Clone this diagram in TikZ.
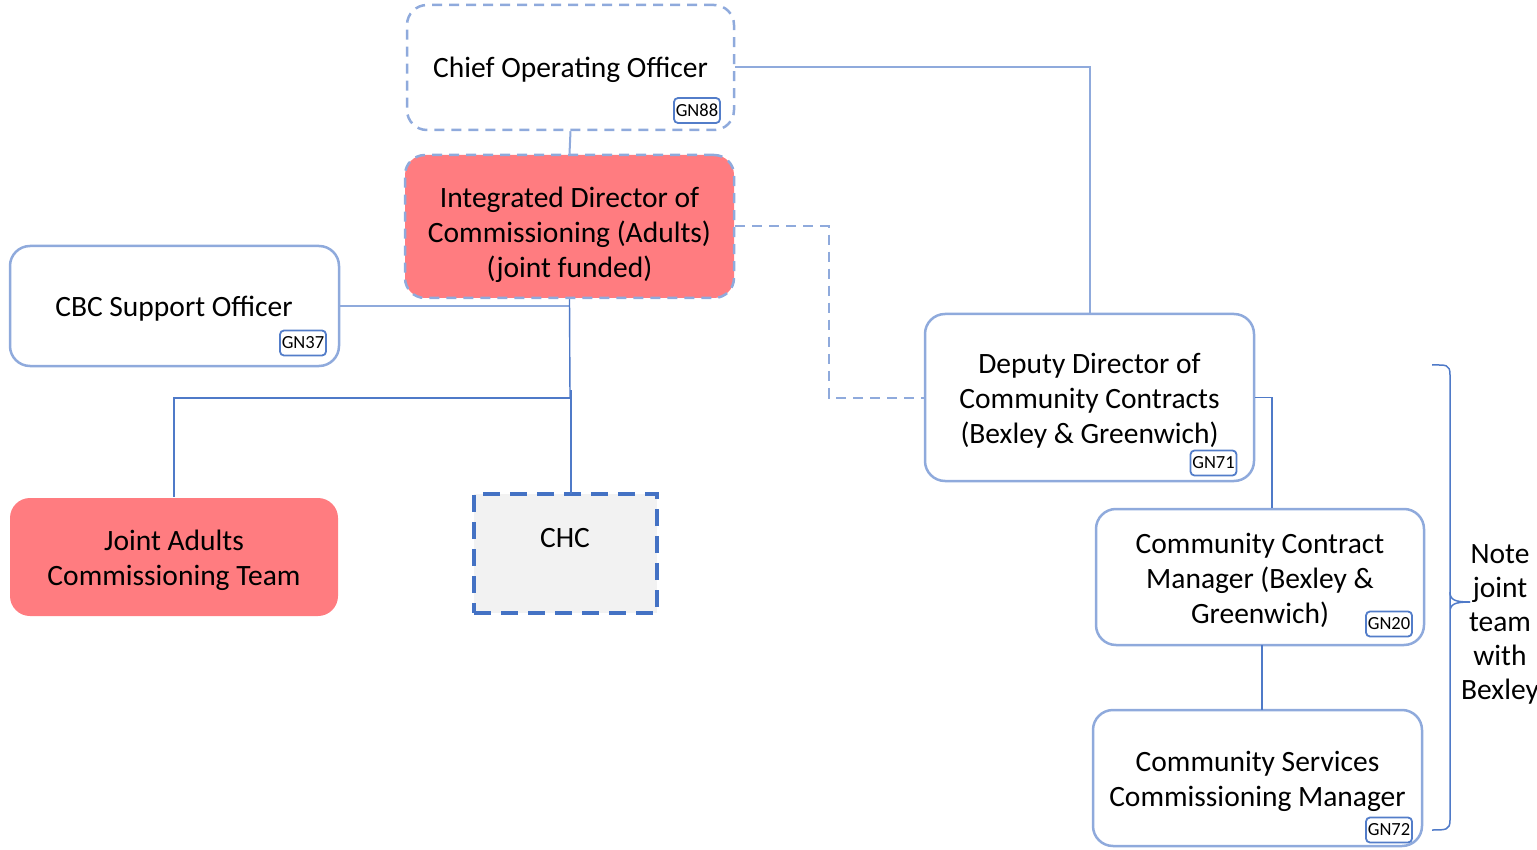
\documentclass[tikz,border=0pt]{standalone}
\usepackage{fontspec}
\setmainfont{Carlito}
\definecolor{lblue}{HTML}{8FAADC}
\definecolor{dblue}{HTML}{4472C4}
\definecolor{pinkfill}{HTML}{FF7C80}
\definecolor{chcfill}{HTML}{F2F2F2}
\begin{document}
\begin{tikzpicture}[x=1pt,y=-1pt,
  bigfont/.style={font=\fontsize{29.5}{35}\selectfont},
  txt/.style={bigfont, align=center, inner sep=0pt, yshift=-3pt},
  box/.style={draw=lblue, line width=2.5pt, rounded corners=20pt, inner sep=0pt},
  dashbox/.style={box, dash pattern=on 10pt off 7pt},
  tag/.style={draw=dblue!80!lblue, line width=1.8pt, rounded corners=4pt,
    font=\fontsize{18.5}{20}\selectfont, inner sep=0pt, minimum width=46pt, minimum height=25pt},
  conn/.style={draw=lblue, line width=2pt},
  dconn/.style={conn, dash pattern=on 10pt off 7pt},
  thin/.style={draw=dblue!85!lblue, line width=1.4pt}
]
\useasboundingbox (0,0) rectangle (1537,850);

% boxes
\node[dashbox, minimum width=327pt, minimum height=125pt] (coo) at (570.5,67.5) {};
\node[txt] (cootxt) at (570.5,67) {Chief Operating Officer};
\node[tag] (gn88) at (697,110.5) {GN88};

\node[dashbox, fill=pinkfill, minimum width=329pt, minimum height=143pt] (idc) at (569.5,226.5) {};
\node[txt] (idctxt) at (569.5,232)
  {Integrated Director of\\Commissioning (Adults)\\(joint funded)};

\node[box, minimum width=329pt, minimum height=120pt] (cbc) at (174.5,306) {};
\node[txt] (cbctxt) at (174,306) {CBC Support Officer};
\node[tag] (gn37) at (303,343) {GN37};

\node[box, draw=none, fill=pinkfill, minimum width=328pt, minimum height=118pt] (joint) at (174,557) {};
\node[txt] (jointtxt) at (174,557) {Joint Adults\\Commissioning Team};

\node[draw=dblue, fill=chcfill, line width=4pt, dash pattern=on 17pt off 10pt,
  minimum width=183pt, minimum height=119pt, inner sep=0pt] (chc) at (565.5,553.5) {};
\node[txt] (chctxt) at (565,535) {CHC};

\node[box, minimum width=329pt, minimum height=167pt] (dep) at (1089.5,397.5) {};
\node[txt] (deptxt) at (1089.5,397.5) {Deputy Director of\\Community Contracts\\(Bexley \& Greenwich)};
\node[tag] (gn71) at (1213.5,463) {GN71};

\node[box, minimum width=328pt, minimum height=136pt] (ccm) at (1260,577) {};
\node[txt] (ccmtxt) at (1260,577) {Community Contract\\Manager (Bexley \&\\Greenwich)};
\node[tag] (gn20) at (1389,624) {GN20};

\node[box, minimum width=329pt, minimum height=136pt] (cscm) at (1257.5,778) {};
\node[txt] (cscmtxt) at (1257.5,778) {Community Services\\Commissioning Manager};
\node[tag] (gn72) at (1389,830) {GN72};

% connectors
\draw[conn] (coo.east) -- (coo.east -| dep.north) -- (dep.north);
\draw[conn] (coo.south) -- (idc.north);
\draw[dconn] (idc.east) -- (829,226.5) |- (dep.west);
\draw[conn] (cbc.east) -- (cbc.east -| idc.south);
\coordinate (jn) at (570,398);
\draw[thin] (idc.south) -- (jn);
\draw[thin] (jn) -| (joint.north);
\draw[thin] (571,390) -- (571,494);
\coordinate (dr) at (1272,397.5);
\draw[thin] (dep.east) -- (dr) -- (dr |- ccm.north);
\draw[thin] (1262,645) -- (1262,710);

% brace
\draw[thin, line width=1.5pt] (1432,365) .. controls (1446,365) and (1450,364) .. (1450,375)
  -- (1450,592) .. controls (1450,600) and (1455,602) .. (1470,602);
\draw[thin, line width=1.5pt] (1450,592) -- (1450,612) .. controls (1450,604) and (1455,602) .. (1470,602);
\draw[thin, line width=1.5pt] (1450,612) -- (1450,820) .. controls (1450,830) and (1446,830) .. (1432,830);
\node[align=center, inner sep=0pt, font=\fontsize{29.5}{34}\selectfont] (note) at (1500,624)
  {Note\\joint\\team\\with\\Bexley};
\end{tikzpicture}
\end{document}
